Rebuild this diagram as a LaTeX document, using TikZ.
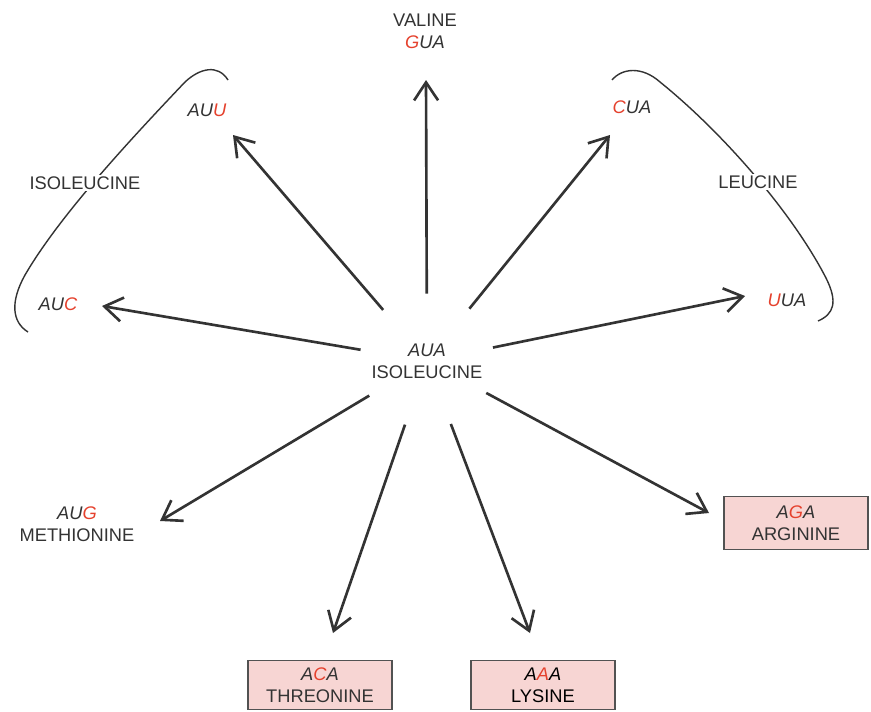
\documentclass[tikz,border=0pt]{standalone}
\usepackage{fontspec}
\setmainfont{Liberation Sans}
\usetikzlibrary{arrows.meta}

\definecolor{inkgray}{HTML}{333333}
\definecolor{codonred}{HTML}{E5412D}
\definecolor{boxpink}{HTML}{F7D5D3}
\newcommand{\rd}[1]{\textcolor{codonred}{#1}}

\tikzset{
  arr/.style={draw=inkgray, line width=1.5pt, -{Straight Barb[length=3.6mm,width=4.8mm]}},
  lbl/.style={text=inkgray, align=center, font=\fontsize{10.4}{12.5}\selectfont, inner sep=1pt},
  codonbox/.style={lbl, draw=inkgray!85, line width=0.9pt, fill=boxpink, minimum width=2.88cm, minimum height=0.98cm},
  bracket/.style={draw=inkgray, line width=0.8pt}
}

\begin{document}
\begin{tikzpicture}[x=0.02cm, y=-0.02cm]
  \useasboundingbox[fill=white] (0,0) rectangle (871,711);

  % brackets round the synonymous codons
  \draw[bracket] (228,80) .. controls (218,64) and (200,68) .. (185,82)
    .. controls (130,140) and (60,215) .. (25,275)
    .. controls (10,302) and (12,322) .. (28,332);
  \draw[bracket] (612,80) .. controls (622,68) and (642,66) .. (660,82)
    .. controls (722,132) and (792,212) .. (826,278)
    .. controls (838,302) and (834,314) .. (818,321);

  \node[lbl, circle, minimum size=2.68cm, inner sep=0pt] (hub) at (427,361) {\textit{AUA}\\ISOLEUCINE};

  \node[lbl] (valine) at (425,31) {VALINE\\\textit{\rd{G}UA}};
  \node[lbl] (auu) at (207,110) {\textit{AU\rd{U}}};
  \node[lbl] (cua) at (632,107) {\textit{\rd{C}UA}};
  \node[lbl] (auc) at (58,304) {\textit{AU\rd{C}}};
  \node[lbl] (uua) at (787,300) {\textit{\rd{U}UA}};
  \node[lbl, fill=white] (isoleucine) at (85,183) {ISOLEUCINE};
  \node[lbl, fill=white] (leucine) at (758,182) {LEUCINE};
  \node[lbl] (methionine) at (77,524) {\textit{AU\rd{G}}\\METHIONINE};
  \node[codonbox] (threonine) at (320,685) {\textit{A\rd{C}A}\\THREONINE};
  \node[codonbox, text=black] (lysine) at (543,685) {\textit{A\rd{A}A}\\LYSINE};
  \node[codonbox, minimum height=1.06cm] (arginine) at (796,523) {\textit{A\rd{G}A}\\ARGININE};

  % arrow tips
  \coordinate (t-gua) at (426,80);
  \coordinate (t-auu) at (233,135);
  \coordinate (t-cua) at (610,135);
  \coordinate (t-auc) at (102,306);
  \coordinate (t-uua) at (745,296);
  \coordinate (t-aug) at (160,521);
  \coordinate (t-aca) at (333,633);
  \coordinate (t-aaa) at (530,633);
  \coordinate (t-aga) at (709,513);

  \path[arr]
  (hub) edge (t-gua)
  (hub) edge (t-auu)
  (hub) edge (t-cua)
  (hub) edge (t-auc)
  (hub) edge (t-uua)
  (hub) edge (t-aug)
  (hub) edge (t-aca)
  (hub) edge (t-aaa)
  (hub) edge (t-aga)
  ;
\end{tikzpicture}
\end{document}
